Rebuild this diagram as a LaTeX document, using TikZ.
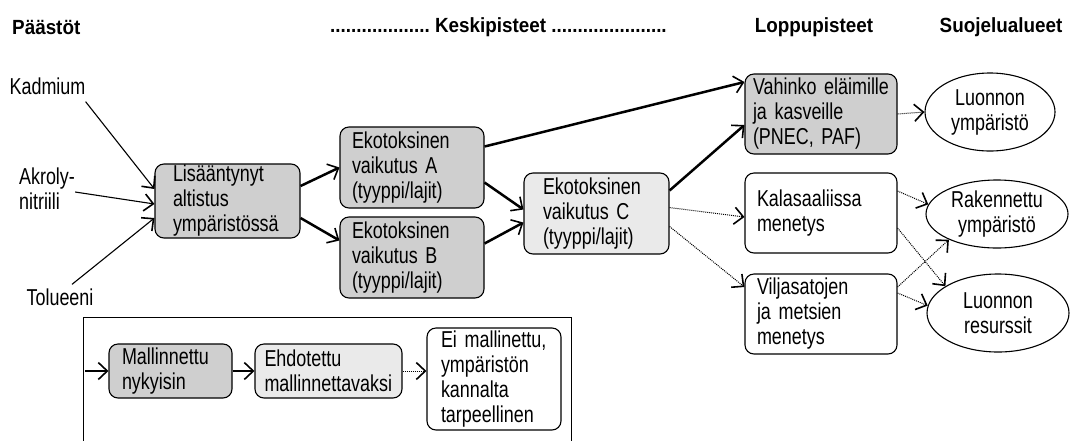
\documentclass[tikz,border=0pt]{standalone}
\usepackage{fontspec}
\setmainfont{Liberation Sans}[FakeStretch=0.78]
\newfontfamily\headfont{Liberation Sans}[FakeStretch=0.92]
\usetikzlibrary{arrows.meta, shapes.geometric}

\definecolor{darkfill}{RGB}{207,207,207}
\definecolor{lightfill}{RGB}{234,234,234}

\tikzset{
  fnt/.style={font=\fontsize{23}{25}\selectfont},
  txt/.style={fnt, inner sep=0pt},
  head/.style={font=\headfont\fontsize{20.5}{24}\selectfont\bfseries, inner sep=0pt},
  box/.style={draw, line width=1.1pt, rounded corners=9pt, align=left,
    inner xsep=12pt, inner ysep=0pt, minimum height=80pt, fnt},
  ell/.style={draw, ellipse, line width=1.1pt, align=center, inner sep=0pt, fnt},
  tip/.style={draw, -{Straight Barb[length=9pt,width=17pt,line width=1.6pt]}},
  thin/.style={tip, line width=1.1pt},
  thick/.style={tip, line width=2.5pt},
  dots/.style={tip, line width=1pt, densely dotted}
}

\begin{document}
\begin{tikzpicture}[x=1pt, y=-1pt]
	\useasboundingbox (0,0) rectangle (1073,440);

	% headings
	\node[head, anchor=west] (paastot) at (12,27) {Päästöt};
	\node[head, anchor=west] (keski) at (330,27) {...................\ Keskipisteet ......................};
	\node[head] (loppu) at (814,27) {Loppupisteet};
	\node[head] (suojelu) at (1001,27) {Suojelualueet};

	% emissions
	\node[txt] (kadmium) at (47.5,86) {Kadmium};
	\node[txt, align=left] (akroly) at (47,189) {Akroly-\\nitriili};
	\node[txt] (tolueeni) at (60,297) {Tolueeni};

	% midpoints
	\node[box, fill=darkfill, inner xsep=18pt, text width=109pt, minimum height=74pt] (lis) at (227.5,201) {Lisääntynyt\\altistus\\ympäristössä};
	\node[box, fill=darkfill, text width=120pt, minimum height=81pt] (ekoA) at (412,167.5) {Ekotoksinen\\vaikutus A\\(tyyppi/lajit)};
	\node[box, fill=darkfill, text width=120pt, minimum height=81pt] (ekoB) at (412,257.5) {Ekotoksinen\\vaikutus B\\(tyyppi/lajit)};
	\node[box, fill=lightfill, inner xsep=19pt, text width=107pt, minimum height=81pt] (ekoC) at (596.5,213.5) {Ekotoksinen\\vaikutus C\\(tyyppi/lajit)};

	% endpoints
	\node[box, fill=darkfill, inner xsep=8pt, text width=136pt] (vahinko) at (821,114) {Vahinko eläimille\\ja kasveille\\(PNEC, PAF)};
	\node[box, text width=128pt] (kala) at (821,213) {Kalasaaliissa\\menetys};
	\node[box, text width=128pt] (vilja) at (821,314) {Viljasatojen\\ja metsien\\menetys};

	% areas of protection
	\node[ell, minimum width=130pt, minimum height=78pt] (luonto) at (990,112) {Luonnon\\ympäristö};
	\node[ell, minimum width=142pt, minimum height=68pt] (rakennettu) at (997,214) {Rakennettu\\ympäristö};
	\node[ell, minimum width=142pt, minimum height=78pt] (resurssit) at (998,313) {Luonnon\\resurssit};

	\path
		([yshift=-7pt]kadmium.south east) edge[thin] ([yshift=12pt]lis.west)
		([yshift=-3pt]akroly.east) edge[thin] ([yshift=-3pt]lis.west)
		([xshift=12pt,yshift=4pt]tolueeni.north) edge[thin] ([yshift=-17pt]lis.west)

		([yshift=15pt]lis.east) edge[thick] (ekoA.west)
		([yshift=-17pt]lis.east) edge[thick] ([yshift=17pt]ekoB.west)
		([yshift=21pt]ekoA.east) edge[thick] ([yshift=32pt]vahinko.west)
		([yshift=-15pt]ekoA.east) edge[thick] ([yshift=4pt]ekoC.west)
		([yshift=14pt]ekoB.east) edge[thick] ([yshift=-9pt]ekoC.west)
		([yshift=23pt]ekoC.east) edge[thick] ([yshift=-11pt]vahinko.west)

		([yshift=6pt]ekoC.east) edge[dots] ([yshift=-4pt]kala.west)
		([yshift=-13pt]ekoC.east) edge[dots] ([yshift=27pt]vilja.west)
		(vahinko.east) edge[dots] (luonto.west)
		([yshift=22pt]kala.east) edge[dots] (rakennettu.172)
		([yshift=-15pt]kala.east) edge[dots] (resurssit.153)
		([yshift=27pt]vilja.east) edge[dots] (rakennettu.208)
		([yshift=21pt]vilja.east) edge[dots] (resurssit.174)
		;

	% legend
	\draw [line width=1pt] (83,445) -- (83,317) -- (571,317) -- (571,445);
	\coordinate (lgin) at (85,371);
	\node[box, fill=darkfill, inner xsep=13pt, text width=97pt, minimum height=54pt] (malli) at (170.5,371) {Mallinnettu\\nykyisin};
	\node[box, fill=lightfill, inner xsep=9.5pt, text width=128pt, minimum height=54pt] (ehdot) at (328.5,371) {Ehdotettu\\mallinnettavaksi};
	\node[box, inner xsep=14pt, text width=106pt, minimum height=102pt] (eimalli) at (494,379) {Ei mallinettu,\\ympäristön\\kannalta\\tarpeellinen};

	\path
		(lgin) edge[thin] (malli.west)
		(malli.east) edge[thin] (ehdot.west)
		(ehdot.east) edge[dots] (eimalli.west |- ehdot.east)
		;
\end{tikzpicture}
\end{document}
